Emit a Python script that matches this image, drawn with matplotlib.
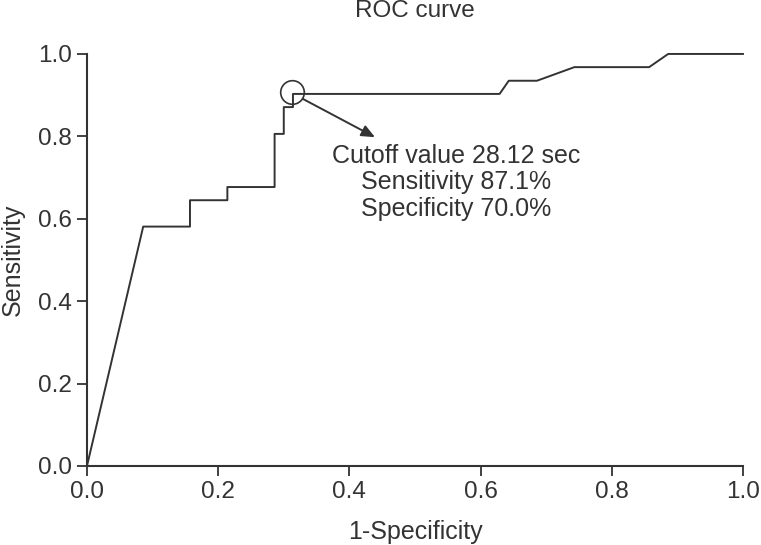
# ROC curve with cutoff annotation
import matplotlib.pyplot as plt

# ROC curve points
fpr = [0.0, 0.0857, 0.157, 0.157, 0.214, 0.214, 0.286, 0.286, 0.300, 0.300,
       0.314, 0.314, 0.629, 0.643, 0.686, 0.743, 0.857, 0.886, 1.0]
tpr = [0.0, 0.581, 0.581, 0.645, 0.645, 0.677, 0.677, 0.806, 0.806, 0.871,
       0.871, 0.903, 0.903, 0.935, 0.935, 0.968, 0.968, 1.0, 1.0]

cutoff_xy = (0.313, 0.907)
arrow_tip = (0.439, 0.798)
cutoff_text = "Cutoff value 28.12 sec\nSensitivity 87.1%\nSpecificity 70.0%"
ticks = [0.0, 0.2, 0.4, 0.6, 0.8, 1.0]
tick_labels = ["0.0", "0.2", "0.4", "0.6", "0.8", "1.0"]

INK = "#333333"
plt.rcParams["font.family"] = ["Liberation Sans", "DejaVu Sans"]

fig = plt.figure(figsize=(7.61, 5.45), dpi=100)
ax = fig.add_axes([0.1143, 0.145, 0.862, 0.756])

ax.plot(fpr, tpr, color=INK, lw=1.4, clip_on=False)
ax.plot(*cutoff_xy, marker="o", ms=17, mfc="none", mec=INK, mew=1.2,
        clip_on=False)
ax.annotate("", xy=arrow_tip, xytext=(0.329, 0.891),
            arrowprops=dict(arrowstyle="-|>,head_length=0.8,head_width=0.35",
                            color=INK, lw=1.4, shrinkA=0, shrinkB=0))
ax.text(0.5625, 0.782, cutoff_text, ha="center", va="top", fontsize=18,
        color=INK, linespacing=1.14)

ax.set_xlim(0, 1)
ax.set_ylim(0, 1)
ax.set_xticks(ticks)
ax.set_yticks(ticks)
ax.set_xticklabels(tick_labels, fontsize=17.5)
ax.set_yticklabels(tick_labels, fontsize=17.5)
ax.tick_params(colors=INK, length=7, width=1.3, direction="out", pad=4)
for side in ("top", "right"):
    ax.spines[side].set_visible(False)
for side in ("left", "bottom"):
    ax.spines[side].set_color(INK)
    ax.spines[side].set_linewidth(1.5)

ax.set_xlabel("1-Specificity", fontsize=18, color=INK, labelpad=12)
ax.set_ylabel("Sensitivity", fontsize=18, color=INK, labelpad=9)
fig.text(0.545, 0.980, "ROC curve", fontsize=17.5, color=INK,
         ha="center", va="center")

fig.savefig("out.png", dpi=100)
